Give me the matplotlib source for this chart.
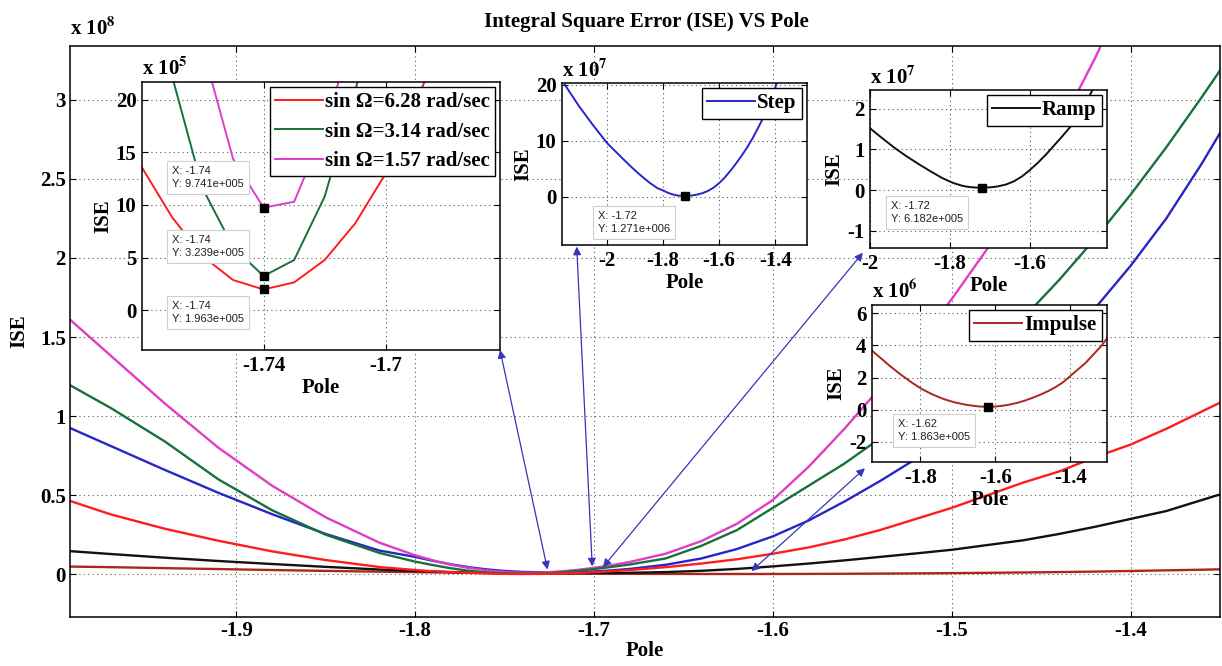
import numpy as np
import matplotlib.pyplot as plt
from matplotlib.patches import ConnectionPatch

nan = float('nan')

# ---------------- data (ISE values in units of 1e5) ----------------
POLE = [-2.15, -2.10, -2.05, -2.00, -1.97, -1.94, -1.91, -1.88, -1.85, -1.82,
        -1.80, -1.79, -1.78, -1.77, -1.76, -1.75, -1.74, -1.73, -1.72, -1.71,
        -1.70, -1.69, -1.68, -1.66, -1.64, -1.62, -1.60, -1.58, -1.56, -1.54,
        -1.52, -1.50, -1.48, -1.46, -1.44, -1.42, -1.40, -1.38, -1.36, -1.34,
        -1.32, -1.30]

ISE_SIN_628 = [nan, nan, nan, 490, 378, 288, 212, 145, 90, 46,
               27, 19, 13.65, 8.86, 5.14, 2.86, 1.963, 2.63, 4.76, 8.25,
               13.0, 19.8, 27, 45, 68, 95, 130, 170, 220, 280,
               350, 420, 500, 580, 650, 740, 820, 920, 1030, 1140,
               nan, nan]

ISE_SIN_314 = [nan, nan, nan, 1240, 1050, 840, 600, 405, 250, 135,
               80, 58, 38, 22.3, 11.6, 6.0, 3.239, 4.76, 10.8, 20.8,
               33, 47, 62, 100, 180, 280, 420, 560, 700, 860,
               1030, 1210, 1400, 1620, 1860, 2120, 2400, 2700, 3020, 3350,
               nan, nan]

ISE_SIN_157 = [nan, nan, nan, 1680, 1380, 1080, 800, 560, 360, 200,
               120, 88, 60, 40, 25, 14.4, 9.741, 10.3, 17.3, 27,
               41, 58, 78, 130, 210, 320, 470, 680, 920, 1180,
               1450, 1740, 2060, 2420, 2820, 3260, 3740, nan, nan, nan,
               nan, nan]

ISE_STEP = [2000, 1620, 1280, 960, 810, 660, 515, 380, 255, 150,
            110, 85, 63, 45, 31, 21, 15, 13, 12.71, 14,
            18, 25, 34, 60, 100, 160, 240, 340, 460, 590,
            730, 880, 1050, 1240, 1440, 1680, 1950, 2250, 2600, 2980,
            3400, 3850]

ISE_RAMP = [nan, nan, nan, 152, 128, 105, 84, 65, 47, 30,
            21, 17, 14, 11, 9, 7.6, 6.7, 6.25, 6.182, 6.4,
            7.0, 8.0, 9.5, 14, 22, 34, 50, 68, 88, 110,
            132, 155, 185, 215, 255, 300, 350, 400, 470, 540,
            620, nan]

ISE_IMPULSE = [nan, nan, nan, 50, 45, 39, 33, 27, 21.5, 16.5,
               13.5, 12.2, 11, 9.8, 8.8, 7.8, 6.9, 6.1, 5.4, 4.7,
               4.2, 3.7, 3.2, 2.5, 2.0, 1.863, 2.0, 2.5, 3.3, 4.4,
               5.8, 7.5, 9.4, 11.5, 14, 17, 21, 25, 29, 34,
               39, 45]

SIN_LABELS = ['sin \u03a9=6.28 rad/sec', 'sin \u03a9=3.14 rad/sec', 'sin \u03a9=1.57 rad/sec']
TITLE = 'Integral Square Error (ISE) VS Pole'

MAIN_XTICKS = [-1.9, -1.8, -1.7, -1.6, -1.5, -1.4]
MAIN_YTICKS = [0, 0.5, 1, 1.5, 2, 2.5, 3]
SIN_XTICKS = [-1.74, -1.7]
SIN_YTICKS = [0, 5, 10, 15, 20]
STEP_XTICKS = [-2, -1.8, -1.6, -1.4]
STEP_YTICKS = [0, 10, 20]
RAMP_XTICKS = [-2, -1.8, -1.6]
RAMP_YTICKS = [-1, 0, 1, 2]
IMP_XTICKS = [-1.8, -1.6, -1.4]
IMP_YTICKS = [-2, 0, 2, 4, 6]

# ---------------- style ----------------
plt.rcParams['font.family'] = ['Liberation Serif', 'DejaVu Serif']
plt.rcParams['font.weight'] = 'bold'
plt.rcParams['axes.labelweight'] = 'bold'
plt.rcParams['mathtext.fontset'] = 'stix'
plt.rcParams['mathtext.default'] = 'bf'
plt.rcParams['axes.unicode_minus'] = False

C_RED = '#ff1c1c'
C_GREEN = '#18703a'
C_MAG = '#e03cc8'
C_BLUE = '#2626c8'
C_BLACK = '#111111'
C_IMP = '#a8281c'
C_ARROW = '#3535b8'

FS = 15
W, H = 1222, 666
fig = plt.figure(figsize=(W / 100, H / 100), dpi=100)


def box(l, t, r, b):
    return [l / W, 1 - b / H, (r - l) / W, (b - t) / H]


def style(a, fs=FS, pad=4):
    a.tick_params(direction='in', top=True, right=True, length=4, width=0.8,
                  labelsize=fs, pad=pad)
    a.grid(True, linestyle=(0, (1, 3)), color='0.35', lw=0.8)
    for s in a.spines.values():
        s.set_linewidth(1.1)


def mult(a, exp, fs=FS):
    a.text(0.0, 1.01, r'x 10$^{%d}$' % exp, transform=a.transAxes,
           ha='left', va='bottom', fontsize=fs)


def mfmt(v):
    m, e = f'{v:.3e}'.split('e')
    ei = int(e)
    return f"{m}e{'+' if ei >= 0 else '-'}{abs(ei):03d}"


def tip(px, py, xv, yv):
    fig.text(px / W, 1 - py / H, f'X: {xv:.2f}\nY: {mfmt(yv)}', ha='left', va='top',
             fontsize=8, family='Liberation Sans', fontweight='normal', color='#202020',
             linespacing=1.35,
             bbox=dict(boxstyle='square,pad=0.45', fc='white', ec='#d0d0d0', lw=0.8),
             zorder=10)


def inset_legend(a, handles, spacing=0.15):
    lg = a.legend(handles=handles, loc='upper right', fontsize=FS, frameon=True,
                  fancybox=False, edgecolor='k', framealpha=1, borderaxespad=0.25,
                  handlelength=2.3, handletextpad=0.1, borderpad=0.25,
                  labelspacing=spacing)
    lg.get_frame().set_linewidth(1.0)
    return lg


def labels(a, pad=2):
    a.set_xlabel('Pole', fontsize=FS, labelpad=pad, fontweight='bold')
    a.set_ylabel('ISE', fontsize=FS, labelpad=pad, fontweight='bold')


x = np.array(POLE)
red = np.array(ISE_SIN_628)
green = np.array(ISE_SIN_314)
mag = np.array(ISE_SIN_157)
step = np.array(ISE_STEP)
ramp = np.array(ISE_RAMP)
imp = np.array(ISE_IMPULSE)

# ---------------- main axes ----------------
ax = fig.add_axes(box(70, 46, 1220, 617))
for vals, col in [(imp, C_IMP), (ramp, C_BLACK), (step, C_BLUE), (mag, C_MAG),
                  (green, C_GREEN), (red, C_RED)]:
    ax.plot(x, vals * 1e5 / 1e8, color=col, lw=1.7)
ax.set_xlim(-1.993, -1.35)
ax.set_ylim(-0.27, 3.34)
ax.set_xticks(MAIN_XTICKS)
ax.set_xticklabels([f'{t:g}' for t in MAIN_XTICKS])
ax.set_yticks(MAIN_YTICKS)
ax.set_yticklabels([f'{t:g}' for t in MAIN_YTICKS])
style(ax, pad=3)
ax.set_xlabel('Pole', fontsize=FS, labelpad=0, fontweight='bold')
ax.set_ylabel('ISE', fontsize=FS, labelpad=8, fontweight='bold')
mult(ax, 8)
fig.text(646 / W, 1 - 22 / H, TITLE, ha='center', va='center', fontsize=15,
         fontweight='bold')

# ---------------- sine inset ----------------
a1 = fig.add_axes(box(142, 82, 500, 350))
hs = []
for vals, col, lab in [(red, C_RED, SIN_LABELS[0]), (green, C_GREEN, SIN_LABELS[1]),
                       (mag, C_MAG, SIN_LABELS[2])]:
    h, = a1.plot(x, vals, color=col, lw=1.4, label=lab)
    hs.append(h)
    i = int(np.nanargmin(vals))
    a1.plot(x[i], vals[i], 's', color='k', ms=6, zorder=5)
a1.set_xlim(-1.7798, -1.6626)
a1.set_ylim(-3.8, 21.7)
a1.set_xticks(SIN_XTICKS)
a1.set_xticklabels([f'{t:g}' for t in SIN_XTICKS])
a1.set_yticks(SIN_YTICKS)
style(a1)
labels(a1)
mult(a1, 5)
inset_legend(a1, hs, spacing=0.45)

i_r = int(np.nanargmin(red)); i_g = int(np.nanargmin(green)); i_m = int(np.nanargmin(mag))
tip(172, 166, x[i_m], mag[i_m] * 1e5)
tip(172, 235, x[i_g], green[i_g] * 1e5)
tip(172, 301, x[i_r], red[i_r] * 1e5)

# ---------------- step inset ----------------
a2 = fig.add_axes(box(562, 83, 807, 245))
h2, = a2.plot(x, step * 1e5 / 1e7, color=C_BLUE, lw=1.4, label='Step')
i_s = int(np.nanargmin(step))
a2.plot(x[i_s], step[i_s] * 1e5 / 1e7, 's', color='k', ms=6, zorder=5)
a2.set_xlim(-2.160, -1.287)
a2.set_ylim(-8.66, 20.3)
a2.set_xticks(STEP_XTICKS)
a2.set_xticklabels([f'{t:g}' for t in STEP_XTICKS])
a2.set_yticks(STEP_YTICKS)
style(a2)
labels(a2)
mult(a2, 7)
inset_legend(a2, [h2])
tip(598, 211, x[i_s], step[i_s] * 1e5)

# ---------------- ramp inset ----------------
a3 = fig.add_axes(box(870, 90, 1107, 248))
h3, = a3.plot(x, ramp * 1e5 / 1e7, color=C_BLACK, lw=1.4, label='Ramp')
i_rp = int(np.nanargmin(ramp))
a3.plot(x[i_rp], ramp[i_rp] * 1e5 / 1e7, 's', color='k', ms=6, zorder=5)
a3.set_xlim(-2.0, -1.408)
a3.set_ylim(-1.42, 2.46)
a3.set_xticks(RAMP_XTICKS)
a3.set_xticklabels([f'{t:g}' for t in RAMP_XTICKS])
a3.set_yticks(RAMP_YTICKS)
style(a3)
labels(a3)
mult(a3, 7)
inset_legend(a3, [h3])
tip(891, 201, x[i_rp], ramp[i_rp] * 1e5)

# ---------------- impulse inset ----------------
a4 = fig.add_axes(box(872, 305, 1107, 462))
h4, = a4.plot(x, imp * 1e5 / 1e6, color=C_IMP, lw=1.4, label='Impulse')
i_i = int(np.nanargmin(imp))
a4.plot(x[i_i], imp[i_i] * 1e5 / 1e6, 's', color='k', ms=6, zorder=5)
a4.set_xlim(-1.929, -1.302)
a4.set_ylim(-3.25, 6.52)
a4.set_xticks(IMP_XTICKS)
a4.set_xticklabels([f'{t:g}' for t in IMP_XTICKS])
a4.set_yticks(IMP_YTICKS)
style(a4)
labels(a4)
mult(a4, 6)
inset_legend(a4, [h4])
tip(898, 419, x[i_i], imp[i_i] * 1e5)

# ---------------- arrows ----------------
for (px_, py_), inset, (fx, fy) in [((-1.726, 0.03), a1, (1.0, 0.0)),
                                     ((-1.701, 0.05), a2, (0.06, -0.01)),
                                     ((-1.695, 0.045), a3, (-0.03, -0.03)),
                                     ((-1.612, 0.02), a4, (-0.03, -0.04))]:
    con = ConnectionPatch(xyA=(px_, py_), coordsA=ax.transData, xyB=(fx, fy),
                          coordsB=inset.transAxes, arrowstyle='<|-|>', mutation_scale=12,
                          color=C_ARROW, lw=0.9, shrinkA=0, shrinkB=0, zorder=6)
    fig.add_artist(con)

fig.savefig('out.png', dpi=100)
